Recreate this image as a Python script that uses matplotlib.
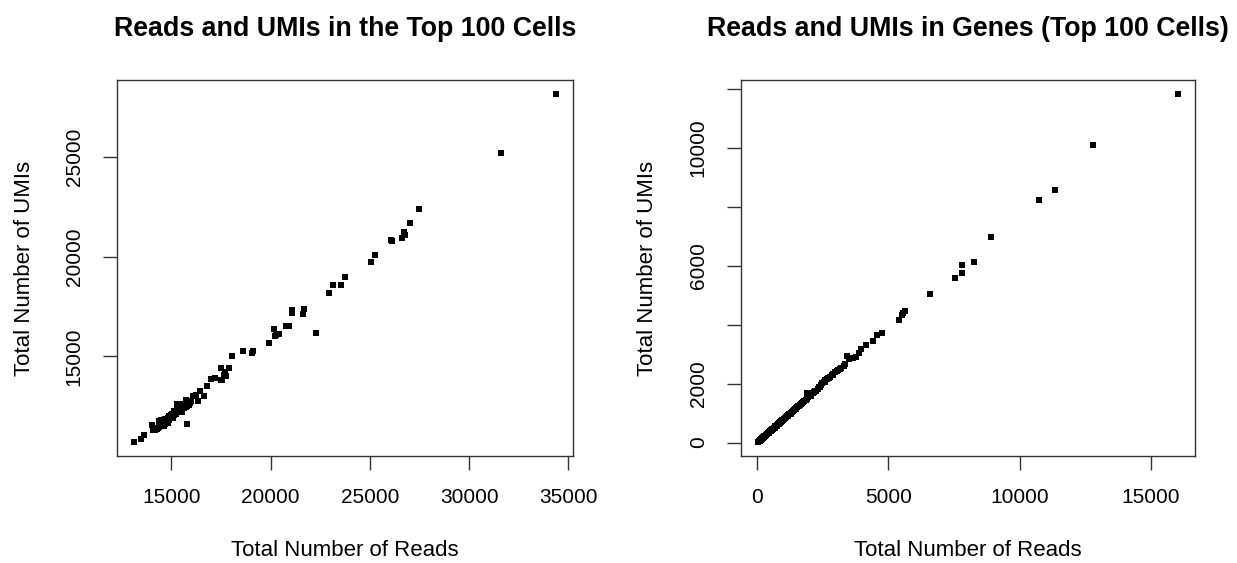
import matplotlib
matplotlib.use("Agg")
import matplotlib.pyplot as plt

plt.rcParams['font.family'] = ['Liberation Sans', 'DejaVu Sans']

# top 100 cells: total reads vs total UMIs
top_reads = [34380, 31611, 27466, 27000, 26728, 26790, 26628, 26074, 26110, 25268,
             25067, 23775, 23540, 23171, 22936, 22282, 21661, 21611, 21074, 21074,
             20940, 20789, 20870, 20185, 20436, 20235, 20300, 19899, 19094, 19044,
             18607, 18054, 17886, 17500, 17718, 17634, 17752, 17483, 17560, 17215,
             17013, 16795, 16628, 16460, 16258, 16074, 16326, 15805, 15956, 15738,
             15453, 15285, 15360, 15600, 15654, 15537, 15235, 15050, 14950, 14866,
             14698, 14581, 14446, 14362, 14614, 14279, 14077, 14180, 14027, 13607,
             13490, 13121, 15120, 15180, 15300, 15400, 15480, 15650, 15720, 15820,
             15900, 14990, 15020, 14900, 14820, 14760, 14700, 14640, 14520, 14480,
             15150, 15100, 15250, 14400, 14350, 15780, 16000, 14850]
top_umis = [28160, 25184, 22408, 21672, 21221, 21110, 20936, 20819, 20780, 20100,
            19732, 18963, 18595, 18595, 18177, 16171, 17358, 17140, 17308, 17174,
            16505, 16505, 16505, 16355, 16137, 16037, 16060, 15669, 15268, 15184,
            15251, 15033, 14415, 14415, 14214, 14047, 13997, 13796, 13820, 13896,
            13846, 13528, 13027, 13261, 13077, 13010, 12742, 11605, 12642, 12793,
            12625, 12592, 12610, 12630, 12425, 12207, 12157, 12124, 11923, 11823,
            11622, 11756, 11706, 11756, 11488, 11371, 11288, 11330, 11538, 11037,
            10870, 10702, 12280, 12200, 12350, 12420, 12300, 12560, 12480, 12700,
            12560, 12050, 11980, 12020, 11900, 11760, 11840, 11700, 11640, 11820,
            12050, 11900, 12100, 11480, 11420, 12520, 12780, 11680]

# reads and UMIs falling in genes
gene_reads = [20, 35, 48, 60, 75, 88, 100, 115, 130, 142, 155, 170, 185, 198, 212,
              228, 240, 255, 270, 285, 300, 318, 332, 350, 365, 380, 398, 415, 430,
              448, 465, 480, 498, 515, 532, 550, 568, 585, 602, 620, 640, 658, 675,
              695, 712, 730, 750, 770, 790, 810, 830, 852, 875, 895, 918, 940, 962,
              985, 1010, 1035, 1060, 1085, 1110, 1135, 1160, 1190, 1220, 1250, 1280,
              1310, 1345, 1380, 1415, 1450, 1490, 1530, 1570, 1610, 1655, 1700, 1745,
              1790, 1840, 1890, 1910, 1930, 1945, 2000, 2060, 2120, 2180, 2240, 2300,
              2370, 2420, 2480, 2540, 2600, 2660, 2700, 2760, 2830, 2900, 2960, 3020,
              3080, 3150, 3210, 3290, 3360,
              40, 90, 150, 210, 280, 340, 420, 500, 580, 660, 740, 820, 900, 990,
              1070, 1170, 1270, 1370, 1480, 1590, 1720, 1860, 2030, 2210, 2390, 2570,
              2740, 2880, 3050,
              3418, 3506, 3633, 3759, 3861, 3949, 4139, 4418, 4582, 4772, 5418, 5506,
              5560, 5620, 6570, 7544, 7785, 7785, 8241, 8924, 10747, 11329, 12797, 16038]
gene_umis = [15, 28, 36, 47, 58, 70, 79, 90, 101, 112, 121, 133, 146, 155, 168,
             178, 190, 199, 213, 222, 236, 249, 262, 273, 288, 297, 313, 326, 338,
             350, 366, 377, 391, 405, 417, 432, 446, 458, 474, 487, 502, 516, 531,
             545, 560, 573, 590, 604, 622, 636, 653, 668, 688, 704, 722, 738, 757,
             773, 793, 812, 834, 852, 872, 893, 913, 935, 960, 983, 1008, 1030, 1058,
             1085, 1112, 1142, 1170, 1205, 1236, 1268, 1300, 1338, 1372, 1410, 1448,
             1486, 1690, 1600, 1530, 1575, 1622, 1670, 1715, 1765, 1820, 1900, 1960,
             2020, 2070, 2110, 2150, 2200, 2240, 2280, 2340, 2400, 2440, 2470, 2500,
             2540, 2600, 2650,
             24, 64, 110, 158, 212, 258, 320, 384, 440, 506, 566, 630, 690, 762,
             822, 902, 980, 1058, 1146, 1232, 1335, 1444, 1590, 1740, 1900, 2040,
             2190, 2300, 2420,
             2935, 2833, 2867, 2912, 3026, 3173, 3320, 3456, 3649, 3728, 4147, 4329,
             4390, 4453, 5031, 5598, 5745, 6028, 6119, 6980, 8215, 8578, 10096, 11830]


def style_axes(ax):
    for s in ax.spines.values():
        s.set_linewidth(1.0)
        s.set_color('#333333')
    ax.tick_params(direction='out', length=10, width=1.0, color='#333333',
                   labelsize=15, pad=13)
    ax.tick_params(axis='y', labelrotation=90, pad=14)
    for lab in ax.get_yticklabels():
        lab.set_va('center')
    ax.margins(0.04)


fig = plt.figure(figsize=(12.37, 5.63), dpi=100)

ax1 = fig.add_axes([0.0946, 0.190, 0.3686, 0.6679])
ax1.plot(top_reads, top_umis, 's', color='black', markersize=3.7, markeredgewidth=0)
ax1.set_xticks([15000, 20000, 25000, 30000, 35000])
ax1.set_yticks([15000, 20000, 25000])
style_axes(ax1)
ax1.set_title('Reads and UMIs in the Top 100 Cells', fontsize=19.3,
              fontweight='bold', pad=32)
ax1.set_xlabel('Total Number of Reads', fontsize=16)
ax1.set_ylabel('Total Number of UMIs', fontsize=16)
ax1.xaxis.set_label_coords(0.5, -0.223)
ax1.yaxis.set_label_coords(-0.18, 0.5)

ax2 = fig.add_axes([0.599, 0.190, 0.367, 0.6679])
ax2.plot(gene_reads, gene_umis, 's', color='black', markersize=3.7, markeredgewidth=0)
ax2.set_xticks([0, 5000, 10000, 15000])
ax2.set_yticks([0, 2000, 4000, 6000, 8000, 10000, 12000])
ax2.set_yticklabels(['0', '2000', '', '6000', '', '10000', ''])
style_axes(ax2)
ax2.set_title('Reads and UMIs in Genes (Top 100 Cells)', fontsize=19.3,
              fontweight='bold', pad=32)
ax2.set_xlabel('Total Number of Reads', fontsize=16)
ax2.set_ylabel('Total Number of UMIs', fontsize=16)
ax2.xaxis.set_label_coords(0.5, -0.223)
ax2.yaxis.set_label_coords(-0.183, 0.5)

plt.savefig('out.png', dpi=100)
